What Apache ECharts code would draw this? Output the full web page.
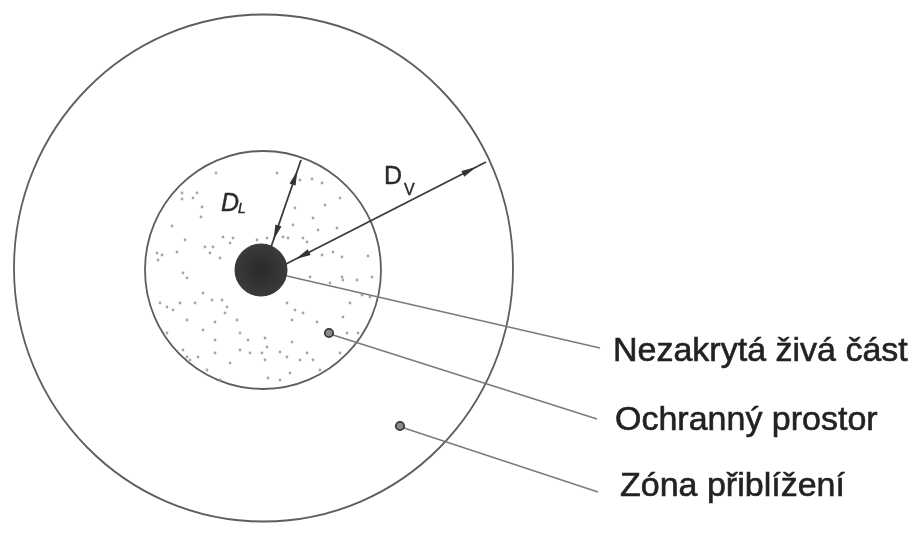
<!DOCTYPE html>
<html>
<head>
<meta charset="utf-8">
<script src="https://cdn.jsdelivr.net/npm/echarts@6/dist/echarts.min.js"></script>
<style>
  html, body { margin: 0; padding: 0; background: #fff; }
  #chart { width: 922px; height: 535px; }
</style>
</head>
<body>
<div id="chart"></div>
<script>
// souřadnice jsou v pixelech obrázku (osa y je otočená)

// hranice zón: [cx, cy, rx, ry]
const zoneCircles = [
    [263.5, 268, 249.5, 253.5],   // zóna přiblížení
    [263, 270, 118, 119]          // ochranný prostor
];
// nezakrytá živá část: [cx, cy, r]
const coreCircle = [[261, 270, 26]];

// body s odkazem na popisek: [x, y]
const markerDots = [[329, 333], [400, 426]];

// tečkování ochranného prostoru
const stippleDots = [
    [216, 173], [277, 173], [300, 180], [312, 179], [322, 183], [340, 198], [182, 199], [193, 198],
    [202, 207], [201, 217], [172, 226], [295, 208], [313, 218], [325, 205], [318, 230], [337, 228],
    [293, 225], [185, 240], [205, 247], [213, 247], [210, 253], [220, 258], [223, 237], [233, 238],
    [230, 243], [257, 240], [267, 238], [283, 237], [288, 238], [303, 238], [307, 242], [322, 255],
    [333, 252], [342, 257], [368, 256], [157, 253], [162, 255], [158, 260], [177, 252], [183, 273],
    [187, 278], [372, 277], [342, 277], [343, 280], [357, 280], [310, 277], [330, 283], [160, 303],
    [167, 307], [173, 310], [180, 303], [195, 303], [203, 293], [212, 300], [222, 300], [227, 307],
    [225, 313], [237, 320], [287, 303], [295, 310], [303, 313], [292, 320], [317, 322], [343, 317],
    [350, 303], [362, 295], [370, 297], [347, 333], [358, 333], [167, 333], [187, 320], [203, 330],
    [215, 340], [240, 333], [248, 340], [265, 338], [267, 347], [280, 352], [292, 342], [307, 353],
    [313, 360], [183, 350], [187, 357], [190, 360], [198, 357], [215, 353], [240, 350], [250, 353],
    [262, 353], [265, 360], [287, 357], [300, 360], [207, 370], [220, 380], [230, 363], [268, 378],
    [280, 380], [290, 373], [320, 370], [340, 353], [215, 322], [182, 193], [197, 193]
];

// kótovací šipky D_L a D_V: [x0, y0, x1, y1]
const dimArrows = [
    [270, 250, 301, 160],
    [286, 264, 486, 162]
];

// odkazové čáry: [x0, y0, x1, y1]
const leaderLines = [
    [287, 276, 600, 348],
    [333, 335, 597, 419],
    [404, 428, 598, 492]
];

// popisky
const labelNames = ['Nezakrytá živá část', 'Ochranný prostor', 'Zóna přiblížení'];
const labelPos = [[613, 352], [615, 421], [620, 487]];

// označení vzdáleností: [text, x, y, styl, velikost]
const dimSymbols = [
    ['D', 221, 204, 'italic', 25],
    ['L', 238, 209, 'italic', 14],
    ['D', 384, 177, 'normal', 25],
    ['V', 404, 191, 'normal', 16]
];

const chart = echarts.init(document.getElementById('chart'));

function arrowHead(tip, dir, len, half) {
    const bx = tip[0] - dir[0] * len, by = tip[1] - dir[1] * len;
    return {
        type: 'polygon',
        shape: { points: [tip, [bx - dir[1] * half, by + dir[0] * half], [bx + dir[1] * half, by - dir[0] * half]] },
        style: { fill: '#333' }
    };
}

const option = {
    animation: false,
    grid: { left: 0, right: 0, top: 0, bottom: 0 },
    xAxis: { type: 'value', min: 0, max: 922, show: false },
    yAxis: { type: 'value', min: 0, max: 535, inverse: true, show: false },
    series: [
        {
            type: 'custom', silent: true, data: zoneCircles,
            renderItem: (params, api) => {
                const c = api.coord([api.value(0), api.value(1)]);
                const s = api.size([api.value(2), api.value(3)]);
                return { type: 'ellipse', shape: { cx: c[0], cy: c[1], rx: s[0], ry: s[1] }, style: { fill: 'none', stroke: '#5e5e5e', lineWidth: 1.8 } };
            }
        },
        {
            type: 'scatter', silent: true, data: stippleDots, symbolSize: 2.8,
            itemStyle: { color: '#909090' }
        },
        {
            type: 'custom', silent: true, data: leaderLines,
            renderItem: (params, api) => {
                const a = api.coord([api.value(0), api.value(1)]);
                const b = api.coord([api.value(2), api.value(3)]);
                return { type: 'line', shape: { x1: a[0], y1: a[1], x2: b[0], y2: b[1] }, style: { stroke: '#7a7a7a', lineWidth: 1.4 } };
            }
        },
        {
            type: 'custom', silent: true, data: dimArrows,
            renderItem: (params, api) => {
                const a = api.coord([api.value(0), api.value(1)]);
                const b = api.coord([api.value(2), api.value(3)]);
                const L = Math.hypot(b[0] - a[0], b[1] - a[1]);
                const u = [(b[0] - a[0]) / L, (b[1] - a[1]) / L];
                const inset = 11;
                const tipEnd = [b[0] - u[0] * inset, b[1] - u[1] * inset];
                const tipStart = [a[0] + u[0] * inset, a[1] + u[1] * inset];
                return {
                    type: 'group',
                    children: [
                        { type: 'line', shape: { x1: a[0], y1: a[1], x2: b[0], y2: b[1] }, style: { stroke: '#3a3a3a', lineWidth: 1.8 } },
                        arrowHead(tipEnd, u, 15, 3.2),
                        arrowHead(tipStart, [-u[0], -u[1]], 15, 3.2)
                    ]
                };
            }
        },
        {
            type: 'custom', silent: true, data: coreCircle,
            renderItem: (params, api) => {
                const c = api.coord([api.value(0), api.value(1)]);
                const r = api.size([api.value(2), 0])[0];
                return {
                    type: 'circle', shape: { cx: c[0], cy: c[1], r: r },
                    style: {
                        fill: new echarts.graphic.RadialGradient(0.5, 0.5, 0.6, [
                            { offset: 0, color: '#2a2a2a' }, { offset: 1, color: '#3e3e3e' }
                        ]),
                        stroke: '#333', lineWidth: 1
                    }
                };
            }
        },
        {
            type: 'custom', silent: true, data: markerDots,
            renderItem: (params, api) => {
                const c = api.coord([api.value(0), api.value(1)]);
                return { type: 'circle', shape: { cx: c[0], cy: c[1], r: 4.2 }, style: { fill: '#8a8a8a', stroke: '#3a3a3a', lineWidth: 1.8 } };
            }
        },
        {
            type: 'custom', silent: true,
            data: labelPos.map((p, i) => [p[0], p[1], i]),
            renderItem: (params, api) => {
                const c = api.coord([api.value(0), api.value(1)]);
                return {
                    type: 'text',
                    style: {
                        text: labelNames[api.value(2)], x: c[0], y: c[1],
                        fill: '#222', stroke: '#222', lineWidth: 0.6,
                        align: 'left', verticalAlign: 'middle',
                        font: '34px "Liberation Sans", Arial, sans-serif'
                    }
                };
            }
        },
        {
            type: 'custom', silent: true,
            data: dimSymbols.map((d, i) => [d[1], d[2], i]),
            renderItem: (params, api) => {
                const d = dimSymbols[api.value(2)];
                const c = api.coord([api.value(0), api.value(1)]);
                return {
                    type: 'text',
                    style: {
                        text: d[0], x: c[0], y: c[1],
                        fill: '#2a2a2a', stroke: '#2a2a2a', lineWidth: 0.4,
                        align: 'left', verticalAlign: 'middle',
                        font: d[3] + ' ' + d[4] + 'px "Liberation Sans", Arial, sans-serif'
                    }
                };
            }
        }
    ]
};

chart.setOption(option);
</script>
</body>
</html>
